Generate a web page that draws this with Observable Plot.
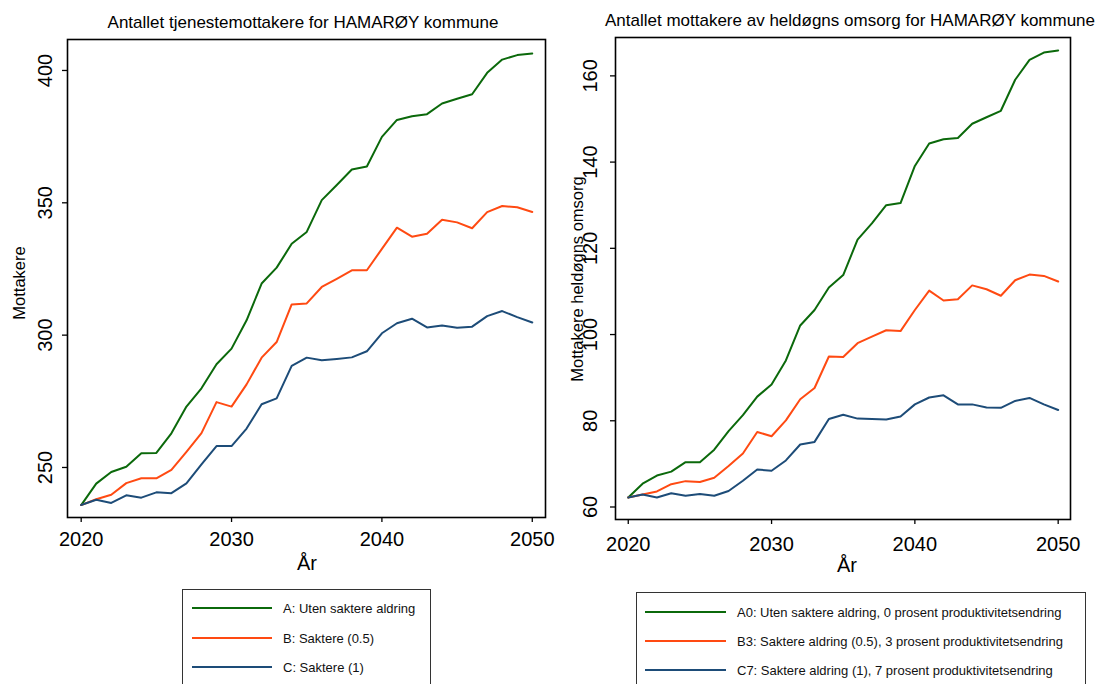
<!DOCTYPE html>
<html><head><meta charset="utf-8">
<script src="https://cdn.jsdelivr.net/npm/d3@7"></script>
<script src="https://cdn.jsdelivr.net/npm/@observablehq/plot@0.6"></script>
<style>
body{margin:0;background:#fff;font-family:"Liberation Sans",Arial,sans-serif;}
#wrap{position:relative;width:1115px;height:684px;overflow:hidden;background:#fff;}
.abs{position:absolute;white-space:nowrap;color:#000;line-height:1;}
.c{transform:translate(-50%,-50%);}
.rot{transform:translate(-50%,-50%) rotate(-90deg);}
.plot{position:absolute;top:0;}
.legend{position:absolute;border:1px solid #333;background:#fff;}
.sw{position:absolute;height:2px;}
.lt{position:absolute;font-size:13px;line-height:1;transform:translateY(-50%);white-space:nowrap;color:#111;}
</style></head><body><div id="wrap"></div>
<script>
// ---- data ----
const years = [2020,2021,2022,2023,2024,2025,2026,2027,2028,2029,2030,2031,2032,2033,2034,2035,2036,2037,2038,2039,2040,2041,2042,2043,2044,2045,2046,2047,2048,2049,2050];
const xTicks = [2020,2030,2040,2050];

const leftTitle = "Antallet tjenestemottakere for HAMARØY kommune";
const leftYLabel = "Mottakere";
const leftYTicks = [250,300,350,400];
const leftNames = ["A: Uten saktere aldring","B: Saktere (0.5)","C: Saktere (1)"];
const leftA = [235.8,243.9,248.3,250.3,255.4,255.5,262.9,273.0,279.9,289.0,294.9,305.6,319.5,325.5,334.5,339.0,351.0,356.7,362.6,363.7,374.9,381.3,382.7,383.5,387.5,389.3,391.0,399.1,404.1,405.8,406.4];
const leftB = [235.8,238.0,239.7,244.1,245.9,245.9,249.1,255.9,263.0,274.7,273.0,281.4,291.5,297.4,311.6,312.0,318.2,321.3,324.5,324.5,332.6,340.6,337.2,338.3,343.6,342.6,340.4,346.5,348.8,348.3,346.5];
const leftC = [235.8,237.8,236.6,239.5,238.6,240.6,240.3,244.0,251.2,258.1,258.1,264.7,273.9,276.1,288.4,291.5,290.5,291.0,291.6,293.9,300.7,304.5,306.2,302.9,303.6,302.8,303.2,307.2,309.1,306.8,304.8];

const rightTitle = "Antallet mottakere av heldøgns omsorg for HAMARØY kommune";
const rightYLabel = "Mottakere heldøgns omsorg";
const rightYTicks = [60,80,100,120,140,160];
const rightNames = ["A0: Uten saktere aldring, 0 prosent produktivitetsendring","B3: Saktere aldring (0.5), 3 prosent produktivitetsendring","C7: Saktere aldring (1), 7 prosent produktivitetsendring"];
const rightA0 = [62.2,65.4,67.3,68.2,70.4,70.4,73.3,77.6,81.3,85.6,88.4,94.0,102.1,105.7,110.9,113.8,122.0,125.8,130.0,130.5,139.1,144.3,145.3,145.6,148.9,150.4,151.9,159.1,163.7,165.4,165.9];
const rightB3 = [62.2,62.9,63.6,65.3,66.0,65.8,66.8,69.5,72.4,77.4,76.4,80.1,85.0,87.6,94.9,94.8,98.0,99.5,101.0,100.8,105.7,110.2,107.9,108.2,111.4,110.5,109.0,112.6,113.9,113.6,112.3];
const rightC7 = [62.2,62.9,62.2,63.2,62.6,63.0,62.6,63.7,66.1,68.7,68.4,70.8,74.5,75.1,80.4,81.4,80.5,80.4,80.3,81.0,83.8,85.4,85.9,83.8,83.8,83.1,83.0,84.6,85.3,83.8,82.5];

const xLabel = "År";
const colors = ["#0b690b","#ff4a12","#1d4c78"];

// ---- helpers ----
const wrap = document.getElementById("wrap");
function addText(txt, x, y, size, cls){
  const d = document.createElement("div");
  d.className = "abs " + cls;
  d.style.left = x + "px"; d.style.top = y + "px"; d.style.fontSize = size + "px";
  d.textContent = txt; wrap.appendChild(d);
}
function makePlot(cfg){
  const rows = [];
  cfg.series.forEach((s, k) => years.forEach((yr, i) => rows.push({year: yr, value: s[i], k})));
  const p = Plot.plot({
    width: cfg.width, height: cfg.height,
    marginLeft: cfg.ml, marginRight: cfg.mr, marginTop: cfg.mt, marginBottom: cfg.mb,
    style: {fontFamily: '"Liberation Sans", Arial, sans-serif', fontSize: "20px", background: "transparent", overflow: "visible", color: "#000"},
    x: {domain: cfg.xd}, y: {domain: cfg.yd},
    marks: [
      Plot.axisX({ticks: xTicks, tickFormat: d => String(d), tickSize: 5, tickPadding: cfg.xpad, label: null, strokeWidth: 1.3}),
      Plot.axisY({ticks: cfg.yticks, tickFormat: d => String(d), tickRotate: -90, tickSize: 5, tickPadding: cfg.ypad, label: null, strokeWidth: 1.3}),
      ...[0,1,2].map(k => Plot.line(rows.filter(r => r.k === k), {x: "year", y: "value", stroke: colors[k], strokeWidth: 2, curve: "linear"})),
      Plot.frame({stroke: "#000", strokeWidth: 1.6})
    ]
  });
  p.classList.add("plot");
  p.style.left = cfg.left + "px";
  wrap.appendChild(p);
}
function legend(names, box, lx1, lx2, tx, ys){
  const b = document.createElement("div");
  b.className = "legend";
  Object.assign(b.style, {left: box[0]+"px", top: box[1]+"px", width: box[2]+"px", height: box[3]+"px"});
  wrap.appendChild(b);
  names.forEach((n, k) => {
    const s = document.createElement("div");
    s.className = "sw";
    Object.assign(s.style, {left: lx1+"px", top: (ys[k]-1)+"px", width: (lx2-lx1)+"px", background: colors[k]});
    wrap.appendChild(s);
    const t = document.createElement("div");
    t.className = "lt"; t.textContent = n;
    Object.assign(t.style, {left: tx+"px", top: ys[k]+"px"});
    wrap.appendChild(t);
  });
}

// ---- left chart ----
makePlot({left: 0, width: 557, height: 580, ml: 67, mr: 12, mt: 39, mb: 63,
  xd: [2019.09, 2050.88], yd: [231.1, 411.7], yticks: leftYTicks,
  series: [leftA, leftB, leftC], xpad: 9, ypad: 11});
addText(leftTitle, 303, 22, 17, "c");
addText(leftYLabel, 19, 283, 16.5, "rot");
addText(xLabel, 307, 563, 20, "c");
legend(leftNames, [182, 589, 247, 140], 192, 272, 283, [608, 638, 667]);

// ---- right chart ----
makePlot({left: 558, width: 557, height: 580, ml: 57, mr: 45, mt: 37, mb: 61,
  xd: [2019.11, 2050.86], yd: [57.1, 168.9], yticks: rightYTicks,
  series: [rightA0, rightB3, rightC7], xpad: 12, ypad: 14});
addText(rightTitle, 850, 20, 17, "c");
addText(rightYLabel, 577, 279, 16.5, "rot");
addText(xLabel, 847, 565, 20, "c");
legend(rightNames, [636, 592, 448, 140], 645, 726, 737, [612, 641, 670]);
</script></body></html>
